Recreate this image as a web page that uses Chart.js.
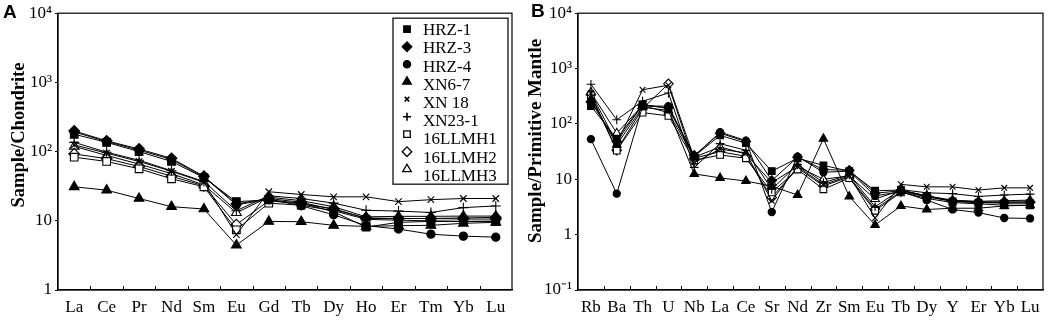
<!DOCTYPE html>
<html><head><meta charset="utf-8">
<script src="https://cdn.jsdelivr.net/npm/chart.js@4.4.1/dist/chart.umd.min.js"></script>
<style>
html,body{margin:0;padding:0;background:#fff;}
#wrap{position:relative;width:1052px;height:320px;overflow:hidden;background:#fff;}
canvas{position:absolute;top:0;}
#ca{left:0;}
#cb{left:524px;}
.pl{position:absolute;font:bold 19px "Liberation Sans",Arial,sans-serif;line-height:20px;color:#000;}
</style></head><body>
<div id="wrap">
<canvas id="ca" width="526" height="320"></canvas>
<canvas id="cb" width="528" height="320"></canvas>
<div class="pl" style="left:3px;top:2px">A</div>
<div class="pl" style="left:531px;top:1px">B</div>
</div>
<script>
// ---------- data ----------
const sampleNames = ['HRZ-1','HRZ-3','HRZ-4','XN6-7','XN 18','XN23-1','16LLMH1','16LLMH2','16LLMH3'];
const reeLabels = ['La','Ce','Pr','Nd','Sm','Eu','Gd','Tb','Dy','Ho','Er','Tm','Yb','Lu'];
const spiderLabels = ['Rb','Ba','Th','U','Nb','La','Ce','Sr','Nd','Zr','Sm','Eu','Tb','Dy','Y','Er','Yb','Lu'];
const reeTickValues = [1,10,100,1000,10000];
const reeTickLabels = ['1','10','10\u00B2','10\u00B3','10\u2074'];
const spiderTickValues = [0.1,1,10,100,1000,10000];
const spiderTickLabels = ['10\u207B\u00B9','1','10','10\u00B2','10\u00B3','10\u2074'];

// Chondrite-normalised REE (panel A)
const reeHRZ1   = [178,136,100,72,42,18.9,20,18,13.5,8.1,9.5,9.8,9.8,9.9];
const reeHRZ3   = [199,143,109,80,44,17.5,21,18.5,14.5,11,10.8,10.8,11,11.2];
const reeHRZ4   = [192,140,105,77,43,17,20.5,16.5,12.2,8.5,7.6,6.4,6.0,5.8];
const reeXN67   = [31,27.7,21,16,14.8,4.45,9.8,9.7,8.6,8.3,8.5,8.6,9.2,9.5];
const reeXN18   = [125,95,72,52,36,6.3,26.3,24,22.2,22.2,18.9,20.2,21,21];
const reeXN231  = [136,98,75,53,37,14,23,21,18,14.2,13.8,13.2,15.5,16.4];
const reeLLMH1  = [83,72,56.5,40.5,31,7.4,18,16.8,14,10.5,10.2,10,9.8,9.8];
const reeLLMH2  = [92.5,79,61,44,32,8.8,19.5,17.5,15,10.8,10.8,10.8,10.6,10.6];
const reeLLMH3  = [119,88,66,48,33,13.1,22,19.5,16,11.4,11.6,11.6,11.7,11.7];

// Primitive-mantle-normalised trace elements (panel B)
const spHRZ1  = [210,54,224,190,26,62,45,14,24,17.8,14,6.2,6.4,5.0,4.0,3.8,3.7,3.7];
const spHRZ3  = [250,48,220,195,27,68,48,9.5,25,15,14.5,5.6,6.2,5.0,4.1,3.9,3.9,3.9];
const spHRZ4  = [53,5.5,210,210,26,71,50,2.56,25.7,13.4,14,5.0,6.0,4.2,2.85,2.5,2.0,1.96];
const spXN67  = [280,42,200,175,12.5,10.6,9.3,7.5,5.2,54,4.9,1.49,3.3,2.85,3.0,3.0,3.3,3.4];
const spXN18  = [360,45,414,500,20,35,30,4.1,17,8,11.5,2.0,8.1,7.3,7.3,6.4,7.0,7.0];
const spXN231 = [520,119,257,362,16.4,44,33.5,6.6,18.5,8.7,12,3.2,6.5,5.7,5.5,4.9,5.2,5.4];
const spLLMH1 = [330,33,160,140,22,27.5,24,5.8,15,6.6,10.5,2.7,5.8,4.5,3.8,3.6,3.4,3.4];
const spLLMH2 = [340,33.6,190,530,24,31.5,26,4.7,16,7.6,11,2.9,6.0,4.8,4.0,3.8,3.8,3.9];
const spLLMH3 = [370,68,215,160,25,38.5,28.5,8.7,17,10,11.5,4.4,6.3,5.0,4.2,4.0,4.1,4.2];

const reeSeries = [reeHRZ1,reeHRZ3,reeHRZ4,reeXN67,reeXN18,reeXN231,reeLLMH1,reeLLMH2,reeLLMH3];
const spiderSeries = [spHRZ1,spHRZ3,spHRZ4,spXN67,spXN18,spXN231,spLLMH1,spLLMH2,spLLMH3];

// ---------- styles ----------
const markerStyles = [
  {style:'rect', fill:'#000'}, {style:'rectRot', fill:'#000'}, {style:'circle', fill:'#000'},
  {style:'triangle', fill:'#000'}, {style:'crossRot', fill:'#000'}, {style:'cross', fill:'#000'},
  {style:'rect', fill:'#fff'}, {style:'rectRot', fill:'#fff'}, {style:'triangle', fill:'#fff'}
];
const markerRadius = {rect:5.4, rectRot:5.4, circle:4.1, triangle:5.6, crossRot:4.6, cross:5};
const SERIF = '"Liberation Serif","Times New Roman",serif';

function buildDatasets(series, scaleK) {
  return series.map((vals, i) => {
    const m = markerStyles[i];
    return {
      label: sampleNames[i],
      data: vals,
      borderColor: '#000',
      borderWidth: 1,
      pointStyle: m.style,
      pointRadius: markerRadius[m.style] * scaleK,
      pointHoverRadius: markerRadius[m.style] * scaleK,
      pointBackgroundColor: m.fill,
      pointBorderColor: '#000',
      pointBorderWidth: 1.1,
      fill: false,
      tension: 0
    };
  });
}

const framePlugin = {
  id: 'frame',
  afterDraw(chart) {
    const {ctx, chartArea: a} = chart;
    const xs = chart.scales.x;
    ctx.save();
    ctx.strokeStyle = '#000';
    ctx.lineWidth = 1.2;
    ctx.strokeRect(a.left, a.top, a.right - a.left, a.bottom - a.top);
    ctx.lineWidth = 1;
    const n = xs.ticks.length;
    for (let i = 0; i < n - 1; i++) {
      const x = Math.round((xs.getPixelForTick(i) + xs.getPixelForTick(i + 1)) / 2) + 0.5;
      ctx.beginPath();
      ctx.moveTo(x, a.bottom);
      ctx.lineTo(x, a.bottom - 4);
      ctx.stroke();
    }
    ctx.restore();
  }
};

const yTitlePlugin = {
  id: 'yTitle',
  afterDraw(chart, args, opts) {
    const {ctx} = chart;
    ctx.save();
    ctx.translate(opts.x, opts.y);
    ctx.rotate(-Math.PI / 2);
    ctx.font = 'bold ' + opts.size + 'px ' + SERIF;
    ctx.fillStyle = '#000';
    ctx.textAlign = 'center';
    ctx.textBaseline = 'middle';
    ctx.fillText(opts.text, 0, 0);
    ctx.restore();
  }
};

const legendPlugin = {
  id: 'sampleLegend',
  afterDraw(chart, args, opts) {
    if (!opts.show) return;
    const {ctx, chartArea: a} = chart;
    const bx = a.right - 119, by = a.top + 5, bw = 115, bh = 166;
    ctx.save();
    ctx.fillStyle = '#fff';
    ctx.fillRect(bx, by, bw, bh);
    ctx.strokeStyle = '#222';
    ctx.lineWidth = 1.4;
    ctx.strokeRect(bx, by, bw, bh);
    ctx.font = '17px ' + SERIF;
    ctx.fillStyle = '#000';
    ctx.textAlign = 'left';
    ctx.textBaseline = 'middle';
    chart.data.datasets.forEach((ds, i) => {
      const mx = bx + 14, my = by + 11 + i * 17.5;
      const st = ds.pointStyle;
      const r = {rect:4.6, rectRot:4.8, circle:3.6, triangle:5, crossRot:3.2, cross:4}[st];
      ctx.save();
      ctx.strokeStyle = '#000';
      ctx.fillStyle = ds.pointBackgroundColor;
      ctx.lineWidth = (st === 'cross' || st === 'crossRot') ? 1.6 : 1.3;
      Chart.helpers.drawPoint(ctx, {pointStyle: st, radius: r, borderWidth: ctx.lineWidth, rotation: 0}, mx, my);
      ctx.restore();
      ctx.fillText(ds.label, bx + 30, by + 12.5 + i * 18.2);
    });
    ctx.restore();
  }
};

function makeChart(canvasId, labels, series, tickValues, tickLabels, yMin, yMax, yWidth, padding, titleOpts, showLegend, scaleK) {
  return new Chart(document.getElementById(canvasId), {
    type: 'line',
    data: { labels: labels, datasets: buildDatasets(series, scaleK) },
    plugins: [framePlugin, yTitlePlugin, legendPlugin],
    options: {
      responsive: false,
      animation: false,
      events: [],
      layout: { padding: padding },
      plugins: {
        legend: { display: false },
        tooltip: { enabled: false },
        yTitle: titleOpts,
        sampleLegend: { show: showLegend }
      },
      scales: {
        x: {
          type: 'category',
          offset: true,
          grid: { display: false, drawTicks: false },
          border: { display: true, color: '#000', width: 1.2 },
          ticks: { color: '#000', font: { family: SERIF, size: 17 }, padding: 7, autoSkip: false, maxRotation: 0 },
          afterFit(s) { s.height = 30; }
        },
        y: {
          type: 'logarithmic',
          min: yMin,
          max: yMax,
          grid: { display: true, drawOnChartArea: false, drawTicks: true, tickLength: 3, color: '#000' },
          border: { display: true, color: '#000', width: 1.2 },
          ticks: {
            color: '#000',
            font: { family: SERIF, size: 17 },
            padding: 3,
            callback(v) { const i = tickValues.indexOf(v); return i >= 0 ? tickLabels[i] : ''; }
          },
          afterBuildTicks(s) { s.ticks = tickValues.map(v => ({ value: v })); },
          afterFit(s) { s.width = yWidth; }
        }
      }
    }
  });
}

makeChart('ca', reeLabels, reeSeries, reeTickValues, reeTickLabels, 1, 10000, 58,
  { left: 0, right: 14, top: 9, bottom: 0 },
  { text: 'Sample/Chondrite', x: 19, y: 135, size: 18.5 }, true, 1);

makeChart('cb', spiderLabels, spiderSeries, spiderTickValues, spiderTickLabels, 0.1, 10000, 54,
  { left: 0, right: 9, top: 7, bottom: 0 },
  { text: 'Sample/Primitive Mantle', x: 12, y: 141, size: 19 }, false, 0.88);
</script>
</body></html>
